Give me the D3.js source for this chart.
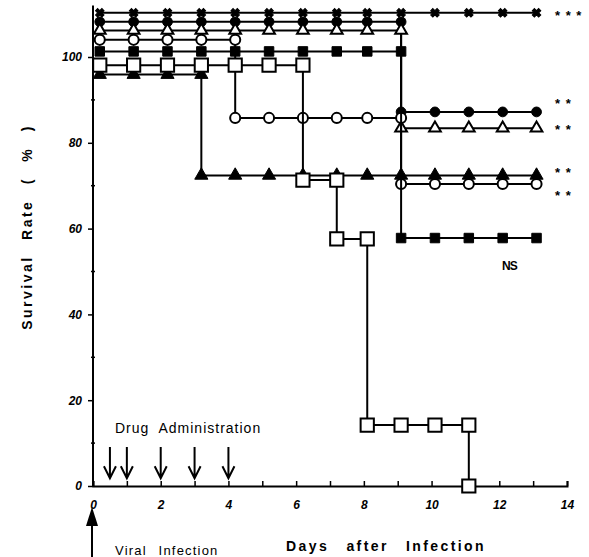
<!DOCTYPE html>
<html>
<head>
<meta charset="utf-8">
<script src="https://cdn.jsdelivr.net/npm/d3@7"></script>
<style>
  html, body { margin: 0; padding: 0; background: #fff; }
  svg { display: block; font-family: "Liberation Sans", Arial, sans-serif; }
</style>
</head>
<body>
<div id="chart"></div>
<script>
// day positions of the plotted points
const days = [0.2, 1.2, 2.2, 3.2, 4.2, 5.2, 6.2, 7.2, 8.1, 9.1, 10.1, 11.1, 12.1, 13.1];

// survival (%) as drawn, curves offset a bit so they do not sit on top of each other
const starVals     = [110.3, 110.3, 110.3, 110.3, 110.3, 110.3, 110.3, 110.3, 110.3, 110.3, 110.3, 110.3, 110.3, 110.3];
const fCircleVals  = [108.2, 108.2, 108.2, 108.2, 108.2, 108.2, 108.2, 108.2, 108.2, 87.2, 87.2, 87.2, 87.2, 87.2];
const oTriVals     = [106.2, 106.2, 106.2, 106.2, 106.2, 106.2, 106.2, 106.2, 106.2, 83.4, 83.4, 83.4, 83.4, 83.4];
const oCircleVals  = [104.0, 104.0, 104.0, 104.0, 85.8, 85.8, 85.8, 85.8, 85.8, 70.4, 70.4, 70.4, 70.4, 70.4];
const fSquareVals  = [101.3, 101.3, 101.3, 101.3, 101.3, 101.3, 101.3, 101.3, 101.3, 57.8, 57.8, 57.8, 57.8, 57.8];
const fTriVals     = [95.9, 95.9, 95.9, 72.4, 72.4, 72.4, 72.4, 72.4, 72.4, 72.4, 72.4, 72.4, 72.4, 72.4];
const oSquareVals  = [98.1, 98.1, 98.1, 98.1, 98.1, 98.1, 71.3, 57.6, 14.2, 14.2, 14.2, 0, null, null];

const yTicks = [0, 20, 40, 60, 80, 100];
const drugDays = [0.5, 1, 2, 3, 4];

// significance marks at the right end
const sigText = ["* * *", "* *", "* *", "* *", "* *"];
const sigLevel = [110.6, 90.0, 84.0, 74.0, 68.5];

const width = 589, height = 557;

const svg = d3.select("#chart").append("svg")
  .attr("width", width)
  .attr("height", height);

svg.append("rect").attr("width", width).attr("height", height).attr("fill", "#fff");

const x = d3.scaleLinear().domain([0, 14]).range([93, 567]);
const y = d3.scaleLinear().domain([0, 100]).range([486, 57]);

// axes
const xAxis = svg.append("g")
  .attr("transform", `translate(0,${y(0)})`)
  .call(d3.axisBottom(x).tickValues(d3.range(0, 15)).tickSize(-5)
    .tickFormat(d => d % 2 === 0 ? d : ""));
xAxis.select(".domain").attr("stroke-width", 2);
xAxis.selectAll(".tick line").attr("stroke-width", 1.5);
xAxis.selectAll(".tick text")
  .attr("y", 14).attr("dy", "0.71em")
  .attr("font-size", 12).attr("font-weight", "bold").attr("font-style", "italic");

const yAxis = svg.append("g")
  .attr("transform", `translate(${x(0)},0)`)
  .call(d3.axisLeft(y).tickValues(yTicks).tickSize(5).tickPadding(6));
yAxis.select(".domain").attr("d", `M0,${y(0)}V${y(112)}`).attr("stroke-width", 2);
yAxis.selectAll(".tick line").attr("stroke-width", 1.5);
yAxis.selectAll(".tick text")
  .attr("font-size", 12).attr("font-weight", "bold").attr("font-style", "italic");
yAxis.selectAll(".minor").data([10, 30, 50, 70, 90]).join("line")
  .attr("class", "minor")
  .attr("x1", -2).attr("x2", 2)
  .attr("y1", d => y(d)).attr("y2", d => y(d))
  .attr("stroke", "#000").attr("stroke-width", 1.5);

// axis titles
svg.append("text")
  .attr("transform", `translate(32,227) rotate(-90)`)
  .attr("text-anchor", "middle")
  .attr("font-size", 14).attr("font-weight", "bold")
  .attr("letter-spacing", 2.5).attr("word-spacing", 9)
  .text("Survival Rate ( % )");

svg.append("text")
  .attr("x", 386).attr("y", 551)
  .attr("text-anchor", "middle")
  .attr("font-size", 14).attr("font-weight", "bold")
  .attr("letter-spacing", 2.4).attr("word-spacing", 11)
  .text("Days after Infection");

// series
const series = [
  { vals: starVals,    shape: d3.symbolCross,    size: 45,  fill: "#000", rot: 45 },
  { vals: fCircleVals, shape: d3.symbolCircle,   size: 75,  fill: "#000" },
  { vals: oTriVals,    shape: d3.symbolTriangle, size: 60,  fill: "#fff" },
  { vals: oCircleVals, shape: d3.symbolCircle,   size: 80,  fill: "#fff" },
  { vals: fSquareVals, shape: d3.symbolSquare,   size: 90,  fill: "#000" },
  { vals: fTriVals,    shape: d3.symbolTriangle, size: 75,  fill: "#000" },
  { vals: oSquareVals, shape: d3.symbolSquare,   size: 175, fill: "#fff" }
];

const line = d3.line()
  .defined(d => d[1] != null)
  .x(d => x(d[0]))
  .y(d => y(d[1]))
  .curve(d3.curveStepAfter);

series.forEach(s => {
  const pts = days.map((d, i) => [d, s.vals[i]]).filter(p => p[1] != null);
  // marker at both levels where the curve drops
  const marks = [];
  pts.forEach((p, i) => {
    if (i > 0 && pts[i - 1][1] !== p[1]) marks.push([p[0], pts[i - 1][1]]);
    marks.push(p);
  });
  const g = svg.append("g");
  g.append("path")
    .datum(pts)
    .attr("d", line)
    .attr("fill", "none")
    .attr("stroke", "#000")
    .attr("stroke-width", 2);
  g.selectAll("path.m")
    .data(marks)
    .join("path")
    .attr("class", "m")
    .attr("d", d3.symbol(s.shape, s.size))
    .attr("transform", d => `translate(${x(d[0])},${y(d[1])}) rotate(${s.rot || 0})`)
    .attr("fill", s.fill)
    .attr("stroke", "#000")
    .attr("stroke-width", s.fill === "#fff" ? 2 : 1);
});

// significance labels
svg.append("g").selectAll("text")
  .data(sigText)
  .join("text")
  .attr("x", 555)
  .attr("y", (d, i) => y(sigLevel[i]) + 8)
  .attr("font-size", 13).attr("font-weight", "bold")
  .attr("letter-spacing", 1)
  .text(d => d);

svg.append("text")
  .attr("x", x(12.3)).attr("y", y(51.5) + 5)
  .attr("text-anchor", "middle")
  .attr("font-size", 12).attr("font-weight", "bold")
  .attr("letter-spacing", -1)
  .text("NS");

// drug administration arrows
svg.append("text")
  .attr("x", 115).attr("y", 433)
  .attr("font-size", 14)
  .attr("letter-spacing", 1).attr("word-spacing", 5)
  .text("Drug Administration");

const arrows = svg.append("g").attr("stroke", "#000").attr("stroke-width", 2).attr("fill", "none");
arrows.selectAll("path")
  .data(drugDays)
  .join("path")
  .attr("d", d => `M${x(d)},${y(9.1)}V${y(1.8)}M${x(d) - 6},${y(4.6)}L${x(d)},${y(1.8)}L${x(d) + 6},${y(4.6)}`);

// viral infection arrow
svg.append("line")
  .attr("x1", x(0) - 1).attr("x2", x(0) - 1)
  .attr("y1", 522).attr("y2", 557)
  .attr("stroke", "#000").attr("stroke-width", 2);
svg.append("path")
  .attr("d", `M${x(0) - 1},507L${x(0) + 5},526L${x(0) - 7},526Z`)
  .attr("fill", "#000");
svg.append("text")
  .attr("x", 115).attr("y", 555)
  .attr("font-size", 13)
  .attr("letter-spacing", 1.2).attr("word-spacing", 7)
  .text("Viral Infection");
</script>
</body>
</html>
